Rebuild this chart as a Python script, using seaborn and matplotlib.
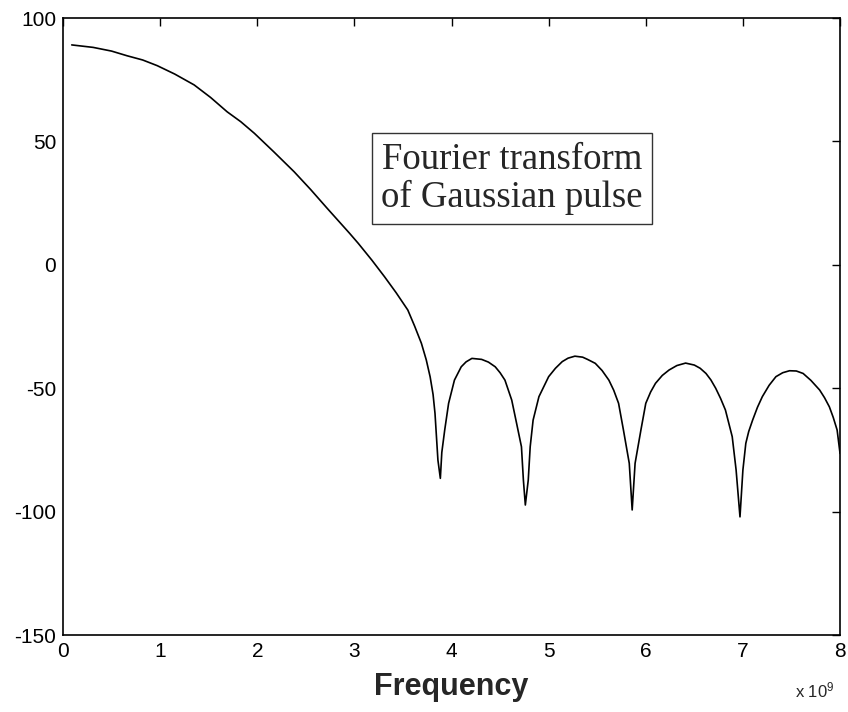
import matplotlib
matplotlib.use("Agg")
import matplotlib.pyplot as plt
import seaborn as sns
import pandas as pd

# Magnitude spectrum of a Gaussian pulse (frequency in units of 1e9 Hz)
freq = [0.09, 0.31, 0.50, 0.66, 0.82, 0.97, 1.15, 1.35, 1.52, 1.69,
        1.83, 1.97, 2.17, 2.38, 2.55, 2.72, 2.95, 3.04, 3.18, 3.31,
        3.43, 3.55, 3.62, 3.69, 3.74, 3.78, 3.81, 3.83, 3.86, 3.885,
        3.90, 3.93, 3.97, 4.03, 4.10, 4.15, 4.21, 4.31, 4.38, 4.45,
        4.50, 4.55, 4.62, 4.67, 4.72, 4.74, 4.76, 4.79, 4.81, 4.84,
        4.90, 5.00, 5.07, 5.14, 5.20, 5.27, 5.35, 5.40, 5.48, 5.55,
        5.62, 5.67, 5.72, 5.77, 5.83, 5.86, 5.89, 5.95, 6.00, 6.05,
        6.10, 6.17, 6.24, 6.32, 6.41, 6.50, 6.56, 6.62, 6.67, 6.72,
        6.77, 6.82, 6.89, 6.93, 6.97, 7.00, 7.03, 7.06, 7.10, 7.15,
        7.20, 7.27, 7.34, 7.41, 7.48, 7.55, 7.62, 7.70, 7.79, 7.84,
        7.89, 7.93, 7.97, 8.00]
magnitude = [89.1, 88.1, 86.6, 84.7, 83.0, 80.7, 77.3, 72.9, 67.8, 62.0,
             58.0, 53.3, 45.8, 37.7, 30.5, 22.9, 12.8, 8.7, 1.9, -4.8,
             -11.3, -18.3, -24.8, -31.8, -38.5, -45.4, -52.5, -60.2, -79.1, -86.5,
             -76.0, -66.9, -56.1, -46.7, -41.3, -39.3, -37.9, -38.3, -39.4, -41.3,
             -43.7, -46.7, -54.8, -64.2, -73.7, -87.2, -97.3, -87.2, -73.7, -62.9,
             -53.4, -45.3, -41.9, -39.2, -37.8, -37.0, -37.4, -38.3, -39.9, -42.8,
             -46.7, -50.8, -56.1, -66.9, -80.4, -99.3, -80.4, -66.9, -56.1, -51.5,
             -48.0, -44.8, -42.6, -40.8, -39.8, -40.6, -41.9, -44.0, -46.6, -50.0,
             -54.1, -58.8, -69.6, -83.1, -102.1, -83.1, -72.3, -67.5, -62.9, -57.7,
             -53.4, -48.8, -45.3, -43.7, -42.9, -43.0, -44.0, -46.8, -50.7, -53.8,
             -57.5, -61.8, -66.9, -76.4]

x_ticks = [0, 1, 2, 3, 4, 5, 6, 7, 8]
y_ticks = [-150, -100, -50, 0, 50, 100]
x_label = "Frequency"
x_scale_label = r"x 10$^{9}$"
note = "Fourier transform\nof Gaussian pulse"

sns.set_style("white")
plt.rcParams["font.family"] = ["Liberation Sans", "DejaVu Sans"]
plt.rcParams["mathtext.default"] = "regular"

df = pd.DataFrame({"freq": freq, "mag": magnitude})

fig = plt.figure(figsize=(8.48, 7.12), dpi=100)
ax = fig.add_axes([0.0743, 0.108, 0.9163, 0.8667])

sns.lineplot(data=df, x="freq", y="mag", ax=ax, color="black", linewidth=1.2,
             estimator=None, sort=True)

ax.set_xlim(0, 8)
ax.set_ylim(-150, 100)
ax.set_xticks(x_ticks)
ax.set_yticks(y_ticks)
ax.set_xticklabels([str(t) for t in x_ticks])
ax.set_yticklabels([str(t) for t in y_ticks])
ax.tick_params(direction="in", length=6, width=1, top=True, right=True,
               labelsize=15, colors="black", pad=5)
for side in ax.spines.values():
    side.set_visible(True)
    side.set_color("black")
    side.set_linewidth(1.2)

ax.set_xlabel(x_label, fontsize=22, fontweight="bold", labelpad=8)
ax.set_ylabel("")

ax.text(0.993, -0.09, x_scale_label, transform=ax.transAxes, ha="right",
        va="center", fontsize=12)

ax.text(4.62, 35.0, note, ha="center", va="center", fontsize=26.5,
        family=["Liberation Serif", "DejaVu Serif"], linespacing=1.12,
        bbox=dict(boxstyle="square,pad=0.25", facecolor="white",
                  edgecolor="#333333", linewidth=1.0))

fig.savefig("out.png", dpi=100, facecolor="white")
